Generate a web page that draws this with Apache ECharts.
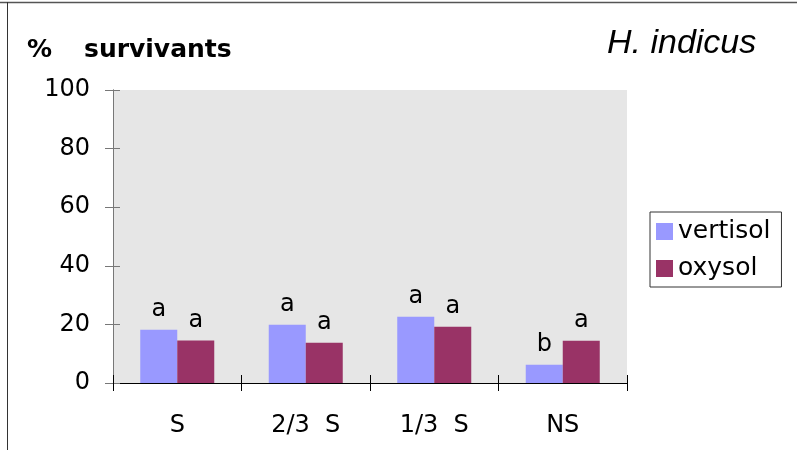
<!DOCTYPE html>
<html><head><meta charset="utf-8">
<script src="https://cdn.jsdelivr.net/npm/echarts@6/dist/echarts.min.js"></script>
<style>html,body{margin:0;padding:0;background:#fff}#c{width:797px;height:450px}</style>
</head><body><div id="c"></div>
<script>
var categories = ['S', '2/3  S', '1/3  S', 'NS'];
var vertisol = [18.2, 19.9, 22.6, 6.2];
var oxysol = [14.5, 13.7, 19.2, 14.4];
var vertisolLetters = ['a', 'a', 'a', 'b'];
var oxysolLetters = ['a', 'a', 'a', 'a'];
var yTicks = [0, 20, 40, 60, 80, 100];

var FONT = 'DejaVu Sans';
var W = 797, H = 450;
var G = {left: 113, top: 90, right: 170, bottom: 67};
var gridW = W - G.left - G.right, gridH = H - G.top - G.bottom;
var chart = echarts.init(document.getElementById('c'), null, {renderer: 'canvas'});
function mk(vals, letters) {
  return vals.map(function (v, i) { return {value: v, label: {formatter: letters[i]}}; });
}
chart.setOption({
  animation: false,
  backgroundColor: '#fff',
  textStyle: {fontFamily: FONT},
  title: [
    {text: '%', left: 27, top: 38, padding: 0, textStyle: {fontFamily: FONT, fontWeight: 'bold', fontSize: 25, color: '#000'}},
    {text: 'survivants', left: 84, top: 38, padding: 0, textStyle: {fontFamily: FONT, fontWeight: 'bold', fontSize: 25, color: '#000'}},
    {text: 'H. indicus', left: 602, top: 22, textStyle: {fontFamily: 'Liberation Sans', fontStyle: 'italic', fontWeight: 'normal', fontSize: 34, color: '#000'}}
  ],
  legend: {
    orient: 'vertical', left: 650, top: 212,
    padding: [7, 11, 6, 6], itemGap: 12, itemWidth: 17, itemHeight: 17, itemTextGap: 8,
    borderColor: '#333', borderWidth: 1, backgroundColor: '#fff',
    icon: 'rect',
    textStyle: {fontFamily: FONT, fontSize: 25, color: '#000'},
    data: ['vertisol', 'oxysol']
  },
  grid: {left: G.left, top: G.top, right: G.right, bottom: G.bottom, show: false, containLabel: false},
  xAxis: [
    {type: 'category', data: categories, position: 'bottom', z: 3,
     axisLine: {lineStyle: {color: '#000', width: 1}},
     axisTick: {show: true, length: 8, lineStyle: {color: '#000'}},
     axisLabel: {fontFamily: FONT, fontSize: 24, color: '#000', margin: 31}},
    {type: 'category', data: categories, position: 'top', offset: -gridH, z: 3,
     axisLine: {show: true, onZero: false, lineStyle: {color: '#000', width: 1}},
     axisTick: {show: true, length: 8, lineStyle: {color: '#000'}},
     axisLabel: {show: false}}
  ],
  yAxis: [
    {type: 'value', min: 0, max: 100, interval: 20, position: 'left', z: 3,
     axisLine: {show: true, lineStyle: {color: '#777', width: 1}},
     axisTick: {show: true, length: 8, lineStyle: {color: '#777'}},
     splitLine: {show: false},
     axisLabel: {fontFamily: FONT, fontSize: 24, color: '#000', margin: 23, padding: [4, 0, 0, 0],
       formatter: function (v) { return yTicks.indexOf(v) >= 0 ? String(v) : ''; }}},
    {type: 'value', min: 0, max: 100, interval: 20, position: 'right', offset: -gridW, z: 3,
     axisLine: {show: true, onZero: false, lineStyle: {color: '#777', width: 1}},
     axisTick: {show: true, length: 7, lineStyle: {color: '#777'}},
     splitLine: {show: false},
     axisLabel: {show: false}}
  ],
  series: [
    {name: 'vertisol', type: 'bar', barWidth: 37, barGap: '0%', itemStyle: {color: '#9999ff'},
     label: {show: true, position: 'top', distance: 8, fontFamily: FONT, fontSize: 24, color: '#000'},
     data: mk(vertisol, vertisolLetters)},
    {name: 'oxysol', type: 'bar', barWidth: 37, barGap: '0%', itemStyle: {color: '#993366'},
     label: {show: true, position: 'top', distance: 8, fontFamily: FONT, fontSize: 24, color: '#000'},
     data: mk(oxysol, oxysolLetters)},
    {name: '_ticks', type: 'line', xAxisIndex: 1, yAxisIndex: 1, data: [], silent: true, showSymbol: false}
  ],
  graphic: [
    {type: 'rect', z: -10, silent: true, shape: {x: G.left, y: G.top, width: gridW, height: gridH}, style: {fill: '#e6e6e6'}},
    {type: 'line', shape: {x1: 0, y1: 2.5, x2: W, y2: 2.5}, style: {stroke: '#555', lineWidth: 1.5}},
    {type: 'line', shape: {x1: 7.5, y1: 2, x2: 7.5, y2: H}, style: {stroke: '#333', lineWidth: 1}}
  ]
});
</script></body></html>
